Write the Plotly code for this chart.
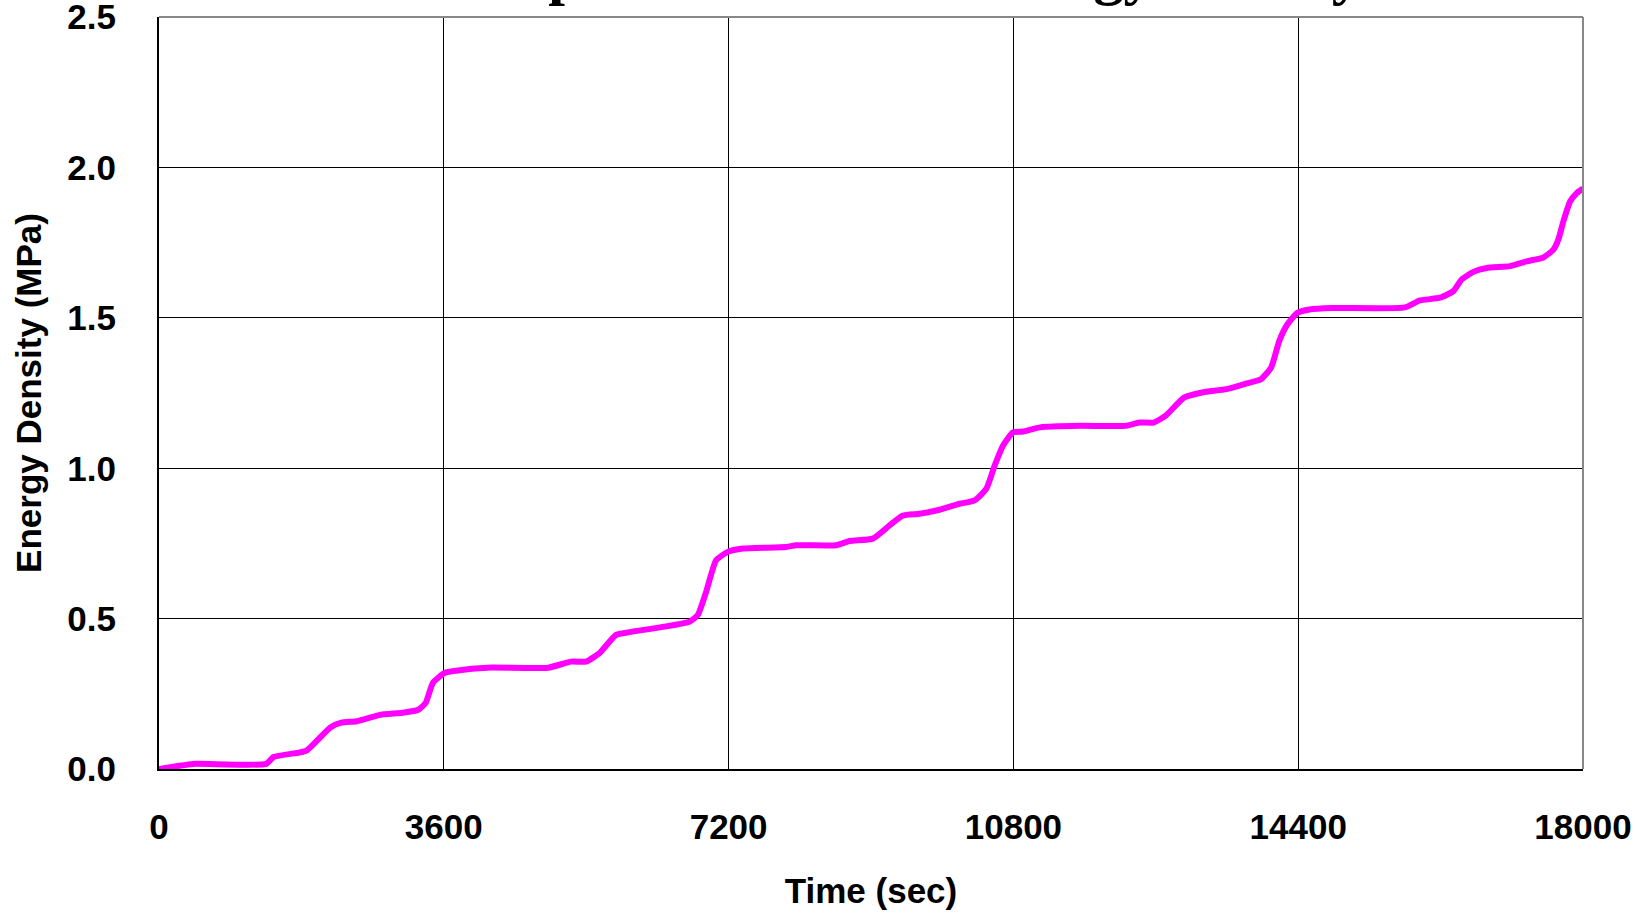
import plotly.graph_objects as go

# Data
time_sec = [0, 237, 434, 1356, 1448, 1777, 1870, 2166, 2304, 2502, 2798, 3081, 3278, 3371,
            3463, 3614, 3753, 4148, 4919, 5209, 5398, 5566, 5777, 5946, 6705, 6810, 6916,
            7042, 7189, 7379, 7928, 8054, 8560, 8729, 9024, 9235, 9403, 9614, 9867, 10120,
            10310, 10458, 10563, 10668, 10794, 10921, 11138, 11651, 12214, 12393, 12572,
            12726, 12956, 13186, 13494, 13751, 13929, 14058, 14160, 14262, 14391, 14544,
            14826, 15748, 15939, 16192, 16361, 16467, 16614, 16783, 17078, 17289, 17499,
            17626, 17689, 17752, 17837, 17921, 18000]
energy_mpa = [0.0, 0.010, 0.017, 0.017, 0.040, 0.055, 0.062, 0.138, 0.154, 0.159, 0.180, 0.187,
              0.197, 0.220, 0.287, 0.320, 0.327, 0.337, 0.337, 0.357, 0.357, 0.385, 0.446,
              0.455, 0.490, 0.512, 0.589, 0.694, 0.722, 0.733, 0.738, 0.744, 0.744, 0.758,
              0.766, 0.810, 0.843, 0.849, 0.862, 0.882, 0.893, 0.932, 1.009, 1.075, 1.119,
              1.122, 1.136, 1.141, 1.141, 1.152, 1.152, 1.175, 1.235, 1.252, 1.263, 1.282,
              1.296, 1.335, 1.423, 1.478, 1.517, 1.528, 1.533, 1.535, 1.558, 1.567, 1.589,
              1.628, 1.653, 1.666, 1.672, 1.688, 1.701, 1.727, 1.761, 1.821, 1.887, 1.915,
              1.930]

x_ticks = [0, 3600, 7200, 10800, 14400, 18000]
x_tick_labels = ["0", "3600", "7200", "10800", "14400", "18000"]
y_ticks = [0.0, 0.5, 1.0, 1.5, 2.0, 2.5]
y_tick_labels = ["0.0", "0.5", "1.0", "1.5", "2.0", "2.5"]

title_text = "Comparison of Total Energy Density"
x_title = "Time (sec)"
y_title = "Energy Density (MPa)"

sans = "Liberation Sans, Arial, sans-serif"

fig = go.Figure()
fig.add_trace(go.Scatter(
    x=time_sec, y=energy_mpa, mode="lines",
    line=dict(color="#FF00FF", width=6, shape="spline", smoothing=0.5),
    showlegend=False,
))

fig.update_layout(
    width=1635, height=914,
    margin=dict(l=159, r=52, t=17, b=145),
    paper_bgcolor="white", plot_bgcolor="white",
    font=dict(family=sans, color="black"),
    xaxis=dict(
        range=[0, 18000], tickvals=x_ticks, ticktext=x_tick_labels,
        showgrid=True, gridcolor="black", gridwidth=1,
        showline=True, linecolor="black", linewidth=2,
        ticks="", zeroline=False, automargin=False, ticklabeloverflow="allow",
        tickfont=dict(family=sans, size=35, weight="bold", color="black"),
        ticklabelstandoff=26,
        title=dict(text=x_title, font=dict(family=sans, size=35, weight="bold"), standoff=33),
    ),
    yaxis=dict(
        range=[0, 2.5005], tickvals=y_ticks, ticktext=y_tick_labels,
        showgrid=True, gridcolor="black", gridwidth=1,
        showline=True, linecolor="black", linewidth=2,
        ticks="", zeroline=False, automargin=False, ticklabeloverflow="allow",
        tickfont=dict(family=sans, size=35, weight="bold", color="black"),
        ticklabelstandoff=34,
        title=dict(text=y_title, font=dict(family=sans, size=35, weight="bold"), standoff=15),
    ),
    shapes=[
        dict(type="line", xref="paper", yref="paper", x0=0, x1=1, y0=1, y1=1,
             line=dict(color="#888888", width=2)),
        dict(type="line", xref="paper", yref="paper", x0=1, x1=1, y0=0, y1=1,
             line=dict(color="#888888", width=2)),
    ],
    annotations=[
        dict(text="<b>" + title_text + "</b>", xref="paper", yref="paper",
             x=0.516, y=1.058, xanchor="center", yanchor="middle", showarrow=False,
             font=dict(family="Liberation Serif, Times New Roman, serif", size=60, color="black")),
    ],
)

fig.write_html("out.html")
